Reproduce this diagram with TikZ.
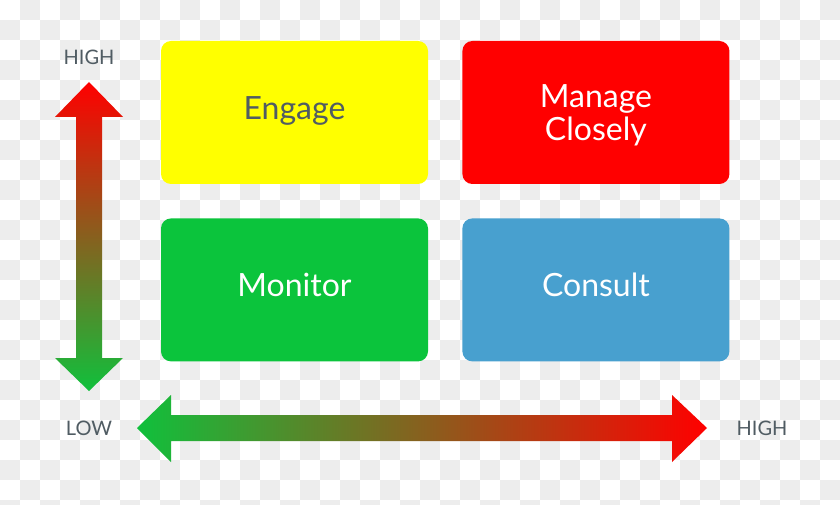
\documentclass[tikz,border=0pt]{standalone}
\usepackage{fontspec}
\setmainfont{Lato}
\usetikzlibrary{positioning}
\definecolor{chk}{HTML}{EDEDED}
\definecolor{txtgrey}{HTML}{505C63}
\definecolor{hiRed}{HTML}{FF0000}
\definecolor{loGreen}{HTML}{10C03C}
\definecolor{boxYellow}{HTML}{FFFF00}
\definecolor{boxGreen}{HTML}{0BC43C}
\definecolor{boxBlue}{HTML}{48A0CF}
\tikzset{
  quad/.style={minimum width=267pt, minimum height=143pt, rounded corners=10pt,
    inner sep=0pt, font=\fontsize{32}{32}\selectfont,
    text height=20pt, text depth=6pt},
  axislabel/.style={text=txtgrey, font=\fontsize{20}{20}\selectfont}
}
\begin{document}
\begin{tikzpicture}[x=1pt, y=1pt]
  \useasboundingbox (0,0) rectangle (840,504);
  \clip (0,0) rectangle (840,504);
  % transparent background grid
  \fill[white] (0,0) rectangle (840,504);
  \foreach \i in {0,...,41}
    \foreach \j in {0,...,25}
    {   \pgfmathtruncatemacro{\odd}{mod(\i+\j,2)}
        \ifnum\odd=1
          \fill[chk] (20*\i,504-20*\j) rectangle ++(20,-20);
        \fi
    }
  % quadrants
  \node[quad, fill=boxYellow, text=txtgrey] (engage) at (294.5,391.5) {Engage};
  \node[quad, fill=hiRed, text=white, text height=50pt, text depth=28pt, right=34pt of engage] (manage) {\begin{tabular}{@{}c@{}}Manage\\[-1pt]Closely\end{tabular}};
  \node[quad, fill=boxGreen, text=white, below=34pt of engage] (monitor) {Monitor};
  \node[quad, fill=boxBlue, text=white, right=34pt of monitor] (consult) {Consult};
  % axes
  \coordinate (ytop) at (89,422);
  \coordinate (ybot) at (89,113);
  \coordinate (xleft) at (137,76);
  \coordinate (xright) at (707,76);
  \shade[top color=hiRed, bottom color=loGreen]
    (ytop) -- ++(34,-35) -- ++(-21,0) |- ([yshift=33pt]ybot -| 123,0) -- (ybot)
    -- ++(-34,33) -- ++(21,0) |- ([yshift=-35pt]ytop -| 55,0) -- cycle;
  \shade[left color=loGreen, right color=hiRed]
    (xleft) -- ++(34,33) -- ++(0,-20) -| ([xshift=-35pt]xright |- 0,109) -- (xright)
    -- ++(-35,-34) -- ++(0,21) -| ([xshift=34pt]xleft |- 0,42) -- cycle;
  \node[axislabel] (yhigh) at (89,447) {HIGH};
  \node[axislabel] (xlow) at (89,76) {LOW};
  \node[axislabel] (xhigh) at (762,76) {HIGH};
\end{tikzpicture}
\end{document}
